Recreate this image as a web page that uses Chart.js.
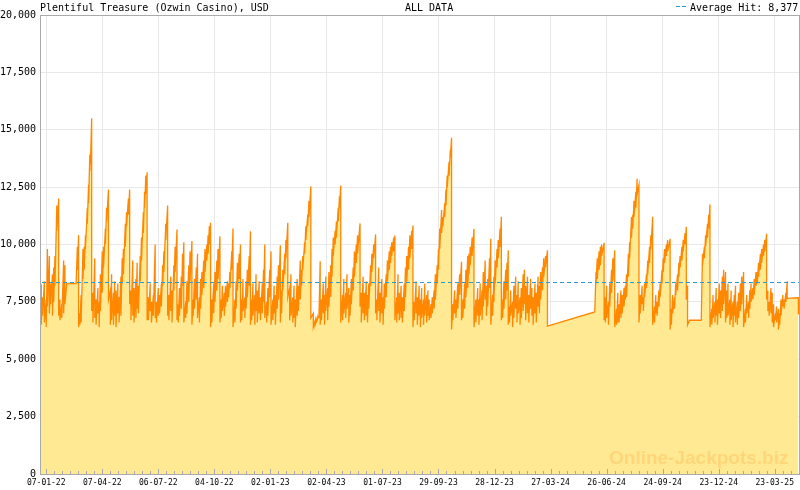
<!DOCTYPE html>
<html>
<head>
<meta charset="utf-8">
<script src="https://cdn.jsdelivr.net/npm/chart.js@4.4.1/dist/chart.umd.min.js"></script>
<style>
  html, body { margin: 0; padding: 0; background: #fff; }
  #wrap { width: 800px; height: 490px; }
</style>
</head>
<body>
<div id="wrap"><canvas id="chart" width="800" height="490"></canvas></div>
<script>
// Plentiful Treasure jackpot history, days counted from 07-01-22
const chartTitle = 'Plentiful Treasure (Ozwin Casino), USD';
const periodLabel = 'ALL DATA';
const avgHit = 8377;

const dayMin = -10;
const dayMax = 1209;
const tickDays = [0, 90, 180, 270, 360, 450, 540, 630, 720, 810, 900, 990, 1080, 1170];
const tickLabels = ['07-01-22', '07-04-22', '06-07-22', '04-10-22', '02-01-23', '02-04-23', '01-07-23',
  '29-09-23', '28-12-23', '27-03-24', '26-06-24', '24-09-24', '23-12-24', '23-03-25'];

// each hit: day, jackpot value just before the hit, value after the reset
const hitDays = [
  -10, -8, -6, -3, 0, 2, 5, 7, 10, 12, 14, 17, 20,
  22, 25, 28, 30, 33, 48, 50, 52, 54,
  56, 59, 61, 63, 66, 68, 70, 71, 73,
  75, 78, 80, 83, 85, 87,
  90, 92, 95, 97, 100,
  103, 105, 108, 110, 112, 115, 117, 120,
  122, 124, 127, 129, 132, 134,
  136, 139, 141, 144, 146, 148,
  151, 153, 156, 158, 160, 162,
  164, 167, 169, 172, 175, 177, 180, 182, 185, 187, 189, 192, 195,
  197, 200, 202, 205, 207, 210, 212, 214, 217, 219, 221, 224, 226, 229, 231, 234, 236, 238, 241, 243, 246,
  248, 250, 253, 255, 258, 260, 262, 264, 266, 269, 271, 274, 276, 279, 281, 283, 286, 288, 291, 293, 295, 298, 300,
  303, 305, 307, 310, 312, 314, 316, 319, 321, 323, 326, 328,
  330, 332, 335, 337, 339, 342, 344, 347, 349, 351, 354, 356, 359, 361, 364, 366, 368, 371, 373, 376,
  378, 380, 383, 385, 388,
  391, 393, 396, 398, 400, 403, 405, 408,
  410, 412, 415, 417, 420, 422, 425,
  429, 432, 435, 438, 440, 442, 445, 447, 449, 452, 454, 457,
  459, 461, 464, 466, 469, 471, 473,
  476, 478, 481, 483, 486, 488, 490, 493, 495, 498, 500, 504,
  506, 509, 511, 514, 516, 518, 521, 523, 526, 529,
  531, 534, 536, 539, 541, 543, 546, 548, 551, 553, 555, 558, 560,
  563, 565, 567, 570, 572, 575, 577, 579, 582, 584, 587, 589,
  591, 594, 596, 599, 601, 603, 606, 608, 611, 613, 615, 618, 620, 623, 625, 628,
  630, 632, 635, 637, 640, 642, 644, 647, 649, 651,
  653, 656, 658, 661, 664, 667,
  669, 672, 674, 677, 679, 681, 684, 687,
  690, 693, 695, 697, 700, 702, 705, 707, 709, 712, 714,
  717, 719, 721, 724, 726, 729, 731,
  733, 735, 738, 740, 742, 744, 746, 749, 751, 754, 756, 758, 761, 763, 766, 768, 770, 773, 775, 778, 780, 782, 785, 787, 790, 792, 794, 797, 799, 802, 805,
  881,
  883, 885, 888, 890, 892, 896, 898, 900, 903, 905, 908, 910, 913, 916, 918, 920, 923, 925, 928, 930, 932, 935, 937, 940, 942, 944, 947, 949, 952,
  954, 957, 959, 961, 964, 966, 969, 971, 974,
  977, 979, 981, 984, 986, 989, 991, 993, 996, 998, 1002,
  1004, 1006, 1009, 1011, 1014, 1016, 1018, 1021, 1023, 1026, 1028, 1030, 1033, 1052,
  1054, 1057, 1059, 1062, 1064, 1066,
  1069, 1071, 1074, 1076, 1078, 1081, 1083, 1086, 1088, 1091, 1093, 1095, 1098, 1100, 1103, 1105, 1107, 1110, 1112, 1115, 1117, 1120,
  1123, 1125, 1128, 1130, 1132, 1135, 1137, 1140, 1142, 1144, 1147, 1149, 1152, 1154, 1157,
  1159, 1161, 1164, 1166, 1168, 1171, 1173, 1176, 1178, 1180, 1183, 1185, 1188, 1190, 1208
];

const hitPeaks = [
  8100, 8200, 7700, 8400, 7600, 9800, 9500, 8300, 8700, 9000, 9500, 11700, 12000,
  7600, 7400, 9300, 9100, 8300, 8300, 9900, 10400, 7000,
  7800, 9800, 9900, 10400, 11600, 12600, 13900, 14000, 15500,
  7900, 9400, 7600, 8100, 7500, 8700,
  9700, 9900, 10700, 11600, 12400,
  8000, 8700, 7900, 8400, 8000, 8300, 7700, 8600,
  9400, 9800, 10900, 11400, 12000, 12400,
  8000, 9300, 8100, 8500, 9200, 8200,
  9500, 10300, 11400, 12300, 13000, 13150,
  7700, 8300, 7500, 7800, 10000, 7500, 8100, 7800, 8300, 9100, 9700, 10900, 11700,
  7800, 8600, 8000, 9100, 9900, 10650, 7400, 8100, 8600, 9600, 10100, 7500, 8400, 9100, 9700, 10150, 7600, 8500, 9000, 9600, 7700,
  8500, 8800, 9300, 9800, 10000, 10400, 10800, 10950, 7600, 8300, 8800, 9300, 9800, 10360, 7600, 8200, 7900, 8200, 8400, 8300, 8800, 9700, 10700,
  7600, 8400, 9200, 9600, 10000, 7600, 8500, 7700, 8400, 8900, 9500, 10580,
  7600, 8300, 7800, 8700, 8000, 8400, 7700, 8300, 8900, 10000, 7500, 8100, 8900, 9700, 7600, 8200, 7800, 8600, 9100, 9970,
  8000, 8900, 9600, 10200, 10950,
  8100, 8700, 7700, 8200, 7600, 8500, 8200, 9300,
  8900, 9500, 10100, 10800, 11300, 11900, 12540,
  7000, 6700, 6800, 6900, 9270, 7600, 8300, 7800, 8600, 8100, 8800, 9100,
  9800, 10300, 10600, 11000, 11600, 12100, 12570,
  7800, 8500, 7900, 8700, 8100, 7800, 8500, 9000, 9700, 10000, 10400, 10920,
  7900, 8600, 7900, 8400, 7800, 8300, 9100, 9600, 10000, 10440,
  7600, 9000, 7900, 8500, 7700, 8300, 8700, 9300, 9700, 9900, 10100, 10300, 10390,
  7700, 8700, 7900, 8200, 7700, 8300, 9000, 9500, 9900, 10400, 10600, 10830,
  7500, 8400, 7700, 8200, 7600, 8100, 7600, 8300, 7800, 8000, 7600, 7400, 7700, 8000, 8700, 9100,
  9800, 10700, 11500, 11200, 11800, 12400, 13000, 13600, 14100, 14650,
  7400, 8000, 7600, 8300, 8700, 9250,
  7600, 8300, 8900, 9500, 9600, 9900, 10300, 10680,
  7600, 8100, 7600, 8300, 8000, 8800, 9300, 8200, 8500, 9400, 10250,
  7800, 8600, 9300, 9800, 10200, 10700, 11210,
  7600, 8400, 8900, 9200, 9750, 7300, 8000, 7500, 8200, 8600, 7800, 8400, 7700, 8100, 8700, 8900, 8200, 8600, 7800, 8500, 8100, 7700, 8300, 7900, 8600, 8200, 8800, 9000, 9400, 9500, 9750,
  7060,
  8800, 9400, 9700, 9900, 10000, 10070, 7700, 8200, 7500, 8300, 8900, 9400, 9750, 7200, 7900, 7400, 8000, 7800, 8100, 8200, 8700, 9600, 10100, 11200, 11300, 11900, 12300, 12860, 12600,
  7800, 8200, 7700, 8300, 8700, 9300, 9900, 10400, 11210,
  7300, 7800, 7500, 8000, 8300, 8900, 9400, 9800, 10000, 10200, 10250,
  7200, 7800, 7700, 8300, 8700, 9200, 9500, 9900, 10200, 10500, 10770, 8200, 6700, 6700,
  9600, 9900, 10400, 10900, 11300, 11740,
  7200, 7800, 7500, 8100, 7600, 8300, 8000, 8600, 8900, 8800, 8000, 8300, 7600, 8000, 7500, 7800, 8200, 7500, 7900, 8300, 8600, 8800,
  7200, 7800, 7500, 8000, 8300, 8100, 8500, 8800, 8800, 9200, 9600, 9800, 10000, 10200, 10470,
  8000, 7500, 8100, 7900, 7400, 7000, 7300, 7200, 7000, 7600, 7800, 7600, 7900, 8400, 7680
];

const hitResets = [
  8100, 6500, 6900, 6600, 6400, 7300, 7000, 7400, 6900, 7500, 8200, 10600, 6900,
  6700, 6800, 7000, 7400, 8300, 8300, 8900, 6400, 6500,
  6600, 8500, 8900, 9800, 10900, 11800, 13200, 13500, 7100,
  6600, 6800, 6500, 7000, 6400, 7100,
  7900, 9000, 10000, 11000, 7600,
  6500, 6700, 6500, 6900, 6400, 7000, 6600, 6900,
  8300, 8700, 9900, 10800, 11300, 7400,
  6700, 6900, 6600, 6800, 7200, 7000,
  8400, 9300, 10500, 11600, 12200, 6700,
  6700, 7100, 6600, 6900, 6800, 6600, 6900, 7000, 7300, 8200, 8800, 10200, 6900,
  6700, 7100, 6600, 8000, 8800, 6700, 6600, 6900, 7200, 8200, 6600, 6800, 7000, 7500, 8400, 6500, 6900, 7200, 7600, 6800, 6600,
  7200, 7800, 8100, 8800, 9300, 9600, 10000, 6400, 6600, 7000, 7500, 8000, 8500, 6600, 6800, 7100, 6900, 7300, 7500, 7700, 8100, 8900, 6400,
  6600, 7200, 8000, 8500, 6600, 6700, 7100, 6800, 7200, 7700, 8200, 6500,
  6700, 6900, 6500, 7100, 6600, 7000, 6700, 7000, 7500, 6800, 6600, 6900, 7700, 6500, 6700, 7000, 6500, 7200, 7600, 6600,
  7000, 8000, 8700, 9400, 7700,
  6700, 6900, 6600, 6800, 6400, 6900, 7100, 7600,
  8200, 8900, 9600, 10200, 10800, 11200, 6800,
  6400, 6500, 6700, 6800, 6500, 6700, 7000, 6500, 7100, 6700, 7300, 7700,
  8600, 9500, 10000, 10300, 11000, 11600, 6600,
  6700, 7000, 6800, 7200, 6600, 6900, 7400, 8000, 8600, 9200, 9600, 7300,
  6600, 7000, 6700, 6900, 6600, 7200, 8200, 8800, 9400, 7000,
  6700, 7100, 6600, 7000, 6500, 7200, 7700, 8400, 8900, 9200, 9500, 9700, 6700,
  6600, 7000, 6700, 6800, 6600, 7100, 7700, 8400, 8900, 9400, 9800, 6400,
  6700, 7000, 6500, 6900, 6400, 6800, 6500, 6900, 6600, 6900, 6700, 6800, 7000, 7200, 7600, 8300,
  8900, 9800, 10500, 10800, 11200, 11700, 12500, 13000, 13800, 6300,
  6700, 7000, 6800, 7200, 7800, 6700,
  6800, 7200, 7700, 8100, 8700, 9100, 9500, 6400,
  6600, 6900, 6500, 6900, 6700, 7300, 7600, 6900, 7300, 8100, 6500,
  6900, 7500, 8300, 9000, 9400, 9900, 6700,
  6800, 7200, 7600, 8000, 6500, 6600, 6900, 6400, 6800, 7200, 6600, 7000, 6500, 6800, 7100, 7400, 6700, 7000, 6600, 7200, 6900, 6500, 7000, 6600, 7300, 7000, 7600, 8000, 8600, 9000, 6440,
  7060,
  8300, 8500, 8900, 9100, 9500, 6700, 6600, 6800, 6500, 7300, 7900, 8400, 6400, 6500, 6600, 6600, 6800, 7000, 7300, 7600, 7700, 8600, 9400, 10300, 10700, 11200, 11600, 12200, 6600,
  7000, 7400, 7100, 7700, 8100, 8700, 9200, 9800, 6500,
  6600, 7000, 6900, 7300, 7700, 8300, 8800, 9200, 9500, 9700, 6300,
  6500, 7000, 7200, 7800, 8000, 8600, 9000, 9300, 9700, 10000, 7600, 6500, 6700, 6700,
  9100, 9400, 9900, 10300, 10700, 6400,
  6500, 6800, 6600, 6900, 6500, 7000, 6800, 7100, 7400, 6600, 6800, 6900, 6500, 6700, 6400, 6900, 6600, 6500, 6800, 7100, 7400, 6400,
  6600, 7000, 6800, 7200, 7500, 7600, 7800, 8200, 8300, 8600, 8900, 9200, 9500, 9700, 7600,
  7100, 6900, 7000, 6600, 6400, 6700, 6600, 6300, 6500, 6900, 7300, 7200, 7500, 7650, 6950
];

if (hitDays.length !== hitPeaks.length || hitDays.length !== hitResets.length) {
  throw new Error('length mismatch ' + hitDays.length + ' ' + hitPeaks.length + ' ' + hitResets.length);
}

const MONO = '"DejaVu Sans Mono", monospace';
const AVG_COLOR = '#2b9bd6';

// peak then reset on the same day gives the vertical drop of each hit
const jackpotPoints = [];
hitDays.forEach((d, i) => {
  jackpotPoints.push({ x: d, y: hitPeaks[i] });
  jackpotPoints.push({ x: d, y: hitResets[i] });
});

const decorPlugin = {
  id: 'decor',
  afterDatasetsDraw(chart) {
    const ctx = chart.ctx;
    const area = chart.chartArea;
    const ys = chart.scales.y;
    ctx.save();
    // average hit, snapped to a pixel row so the dashes stay crisp
    const ay = Math.round(ys.getPixelForValue(avgHit)) + 0.5;
    ctx.strokeStyle = AVG_COLOR;
    ctx.lineWidth = 1;
    ctx.setLineDash([4, 3]);
    ctx.beginPath();
    ctx.moveTo(area.left + 2, ay);
    ctx.lineTo(area.right, ay);
    ctx.stroke();
    ctx.setLineDash([]);

    // watermark
    ctx.font = 'bold 19px "Liberation Sans", Arial, sans-serif';
    ctx.fillStyle = 'rgba(255,170,70,0.32)';
    ctx.textAlign = 'left';
    ctx.textBaseline = 'alphabetic';
    ctx.fillText('Online-Jackpots.biz', 609, 464);
    ctx.restore();
  },
  afterDraw(chart) {
    const ctx = chart.ctx;
    const xs = chart.scales.x;
    ctx.save();

    // frame
    ctx.strokeStyle = '#aaaaaa';
    ctx.lineWidth = 1;
    ctx.strokeRect(40.5, 15.5, 759, 459);

    // small ticks along the bottom, 7 per labelled interval
    ctx.beginPath();
    for (let k = 0; k * 90 / 7 <= dayMax; k++) {
      const px = Math.round(xs.getPixelForValue(k * 90 / 7)) + 0.5;
      const len = (k % 7 === 0) ? 5 : 3;
      ctx.moveTo(px, 474);
      ctx.lineTo(px, 474 - len);
    }
    ctx.stroke();

    // header texts
    ctx.fillStyle = '#000';
    ctx.font = '10px ' + MONO;
    ctx.textBaseline = 'alphabetic';
    ctx.textAlign = 'left';
    ctx.fillText(chartTitle, 40, 11);
    ctx.fillText(periodLabel, 405, 11);
    ctx.fillText('Average Hit: ' + avgHit.toLocaleString('en-US'), 690, 11);

    // legend dash
    ctx.strokeStyle = AVG_COLOR;
    ctx.beginPath();
    ctx.moveTo(676, 6.5); ctx.lineTo(680, 6.5);
    ctx.moveTo(682, 6.5); ctx.lineTo(686, 6.5);
    ctx.stroke();
    ctx.restore();
  }
};

new Chart(document.getElementById('chart'), {
  type: 'line',
  data: {
    datasets: [
      {
        label: 'Jackpot',
        data: jackpotPoints,
        borderColor: '#ff8800',
        borderWidth: 1.3,
        backgroundColor: '#ffe992',
        fill: 'origin',
        pointRadius: 0,
        tension: 0
      }
    ]
  },
  options: {
    responsive: false,
    animation: false,
    layout: { padding: { top: 15, right: 1, left: 0, bottom: 0 } },
    plugins: { legend: { display: false }, tooltip: { enabled: false } },
    scales: {
      x: {
        type: 'linear',
        min: dayMin,
        max: dayMax,
        afterBuildTicks(scale) {
          scale.ticks = tickDays.map(v => ({ value: v }));
        },
        afterFit(scale) { scale.height = 16; },
        ticks: {
          autoSkip: false,
          maxRotation: 0,
          padding: 4,
          color: '#000',
          font: { family: MONO, size: 8 },
          callback: (value, index) => tickLabels[index]
        },
        grid: { color: '#e8e8e8', drawTicks: false },
        border: { display: false }
      },
      y: {
        min: 0,
        max: 20000,
        afterFit(scale) { scale.width = 40; },
        ticks: {
          stepSize: 2500,
          padding: 4,
          color: '#000',
          font: { family: MONO, size: 10 },
          callback: v => v.toLocaleString('en-US')
        },
        grid: { color: '#e8e8e8', drawTicks: false },
        border: { display: false }
      }
    }
  },
  plugins: [decorPlugin]
});
</script>
</body>
</html>
